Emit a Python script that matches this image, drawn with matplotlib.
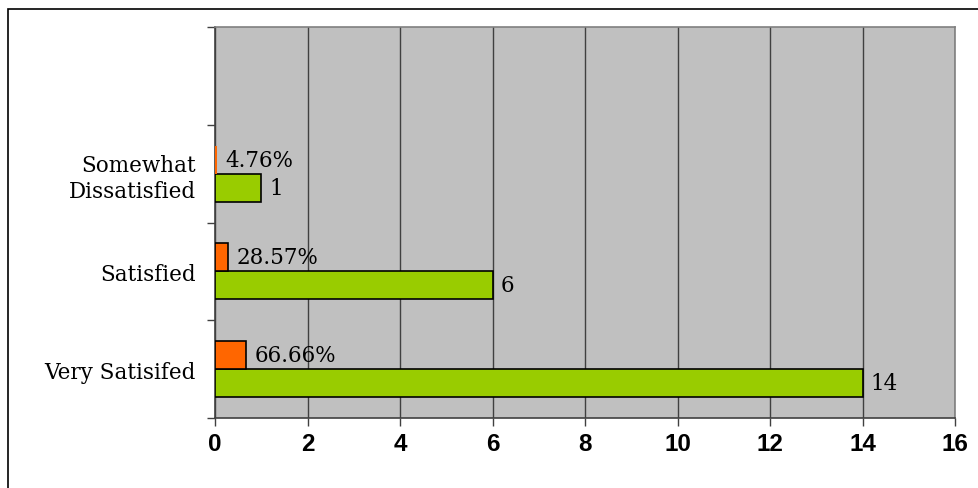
import matplotlib
matplotlib.use("Agg")
import matplotlib.pyplot as plt
from matplotlib.patches import Rectangle
import numpy as np

categories = ["Very Satisifed", "Satisfied", "Somewhat\nDissatisfied", ""]
counts = [14, 6, 1]
shares = [0.6666, 0.2857, 0.0476]
share_labels = ["66.66%", "28.57%", "4.76%"]
x_ticks = [0, 2, 4, 6, 8, 10, 12, 14, 16]

green = "#99CC00"
orange = "#FF6600"
bg = "#C0C0C0"
serif = ["DejaVu Serif"]

fig = plt.figure(figsize=(9.79, 4.89), dpi=100)
ax = fig.add_axes([215/979, 1-419/489, (955-215)/979, (419-28)/489])
ax.set_facecolor(bg)

# figure frame
fig.patches.append(Rectangle((8/979, -0.2), 2, 1-10/489+0.2, transform=fig.transFigure,
                             fill=False, edgecolor="black", linewidth=1.2, zorder=0))

y = np.arange(len(counts))
h = 0.286
ax.barh(y - h/2, counts, height=h, color=green, edgecolor="black", linewidth=1.2, zorder=3)
ax.barh(y + h/2, shares, height=h, color=orange, edgecolor="black",
        linewidth=[1.2 if s > 0.1 else 0 for s in shares], zorder=3)

for yi, c, s, sl in zip(y, counts, shares, share_labels):
    ax.text(c + 0.18, yi - h/2, str(c), va="center", ha="left", fontsize=15.5,
            family=serif, zorder=4)
    ax.text(s + 0.18, yi + h/2, sl, va="center", ha="left", fontsize=15.5,
            family=serif, zorder=4)

ax.set_xlim(0, 16)
ax.set_ylim(-0.5, 3.5)
ax.set_xticks(x_ticks)
ax.set_xticklabels([str(t) for t in x_ticks], fontsize=17.5, fontweight="bold",
                   family=["Liberation Sans", "DejaVu Sans"])
ax.tick_params(axis="x", direction="out", length=6, width=1, color="#404040", pad=4)

ax.set_yticks(np.arange(-0.5, 4.0, 1.0))
ax.set_yticklabels([])
ax.set_yticks(np.arange(len(categories)), minor=True)
ax.set_yticklabels(categories, minor=True, fontsize=15.5, family=serif, ha="right",
                   linespacing=1.2)
ax.tick_params(axis="y", which="major", direction="out", length=6, width=1, color="#404040")
ax.tick_params(axis="y", which="minor", length=0, pad=14)

ax.grid(axis="x", color="#404040", linewidth=1, zorder=1)
ax.set_axisbelow(True)
for side in ["left", "bottom"]:
    ax.spines[side].set_color("#404040")
    ax.spines[side].set_linewidth(1.2)
for side in ["top", "right"]:
    ax.spines[side].set_color("#808080")
    ax.spines[side].set_linewidth(1.2)

fig.savefig("out.png", dpi=100)
